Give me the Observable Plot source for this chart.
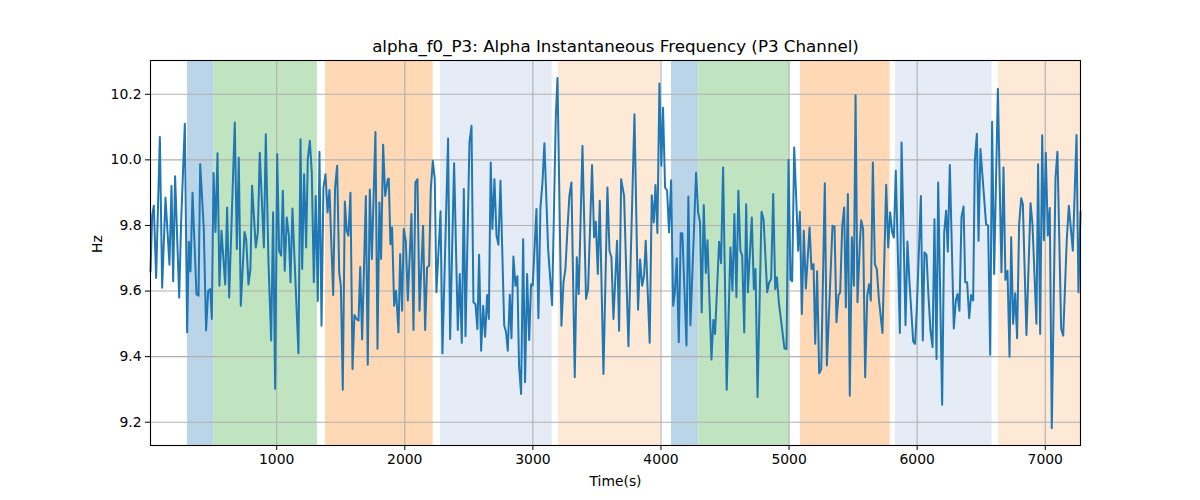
<!DOCTYPE html>
<html>
<head>
<meta charset="utf-8">
<script src="https://cdn.jsdelivr.net/npm/d3@7"></script>
<script src="https://cdn.jsdelivr.net/npm/@observablehq/plot@0.6"></script>
<style>
  html, body { margin: 0; padding: 0; background: #fff; }
  #chart svg { display: block; }
</style>
</head>
<body>
<div id="chart"></div>
<script>
const titleText = "alpha_f0_P3: Alpha Instantaneous Frequency (P3 Channel)";
const xLabel = "Time(s)";
const yLabel = "Hz";
const xTicks = [1000, 2000, 3000, 4000, 5000, 6000, 7000];
const yTicks = [9.2, 9.4, 9.6, 9.8, 10.0, 10.2];

const times = [
15,28,41,59,88,106,132,163,179,192,207,239,254,283,301,314,327,343,374,390,403,431,449,465,481,494,507,522,538,553,569,598,613,629,673,689,704,720,749,762,780,795,808,837,853,868,900,915,
936,957,972,988,1004,1019,1035,1048,1063,1079,1095,1108,1123,1170,1186,1199,1214,1230,1243,1259,1274,1290,1305,1321,1334,1350,1365,1381,1397,1412,1441,1456,1472,1488,1501,1516,1532,1547,1560,1576,1592,1607,1623,1639,1652,1667,1696,1711,1727,1743,1771,1787,1802,1815,1831,1847,1868,
1875,1888,1901,1917,1932,1951,1964,1979,1992,2008,2024,2052,2068,2083,2099,2115,2143,2159,2174,2190,2203,2219,2234,2247,2279,2294,2338,2354,2385,2414,2429,2445,2461,2474,2505,2521,2536,2552,2567,2580,2596,2612,2627,2643,2656,2671,2684,2700,2716,2731,2747,2776,
2791,2804,2820,2833,2848,2864,2879,2892,2908,2924,2939,2955,2971,2986,2999,3028,3043,3059,3075,3090,3119,3150,3179,3192,3223,3239,3254,3270,3285,3301,3327,3343,3358,3387,3415,3431,3462,3478,3491,3507,3522,3551,3582,3598,3613,3629,3657,3673,3689,
3712,3728,3746,3793,3821,3837,3853,3868,3881,3912,3928,3944,3957,3972,3988,4003,4016,4032,4048,4063,4079,4095,4108,4123,4139,4154,4167,4199,4214,4230,4274,4290,4305,4318,4334,4350,4363,4394,4409,4422,4454,4469,4485,4513,4542,4558,4573,4589,4604,4620,
4634,4650,4665,4678,4709,4725,4738,4754,4785,4801,4829,4845,4860,4876,4892,4905,4920,4964,4980,4996,5011,5024,5040,5056,5071,5084,5100,5115,5131,5160,5175,5191,5204,5219,5235,5251,5279,5295,5339,5355,5370,5386,5399,5415,5430,5443,5459,5474,5490,5506,5519,5534,5553,
5563,5578,5594,5610,5625,5638,5654,5670,5685,5701,5729,5758,5774,5789,5805,5818,5833,5865,5878,5909,5924,5940,5969,5984,5997,6029,6044,6057,6073,6088,6104,6120,6135,6151,6164,6195,6211,6226,6239,6255,6286,6302,6315,6330,6346,6362,6375,6390,6406,6421,6437,6450,6466,6479,
6494,6538,6554,6570,6585,6601,6630,6658,6674,6689,6705,6721,6734,6749,6765,6780,6796,6812,6825,6853,6885,6900,6931,6944,6960,6976,6989,7004,7020,7035,7051,7080,7095,7124,7140,7168,7184,7215,7244,7259,7275
];

const hz = [
9.66,9.83,9.86,9.64,10.07,9.61,9.885,9.68,9.92,9.63,9.95,9.58,9.81,10.11,9.474,9.75,9.66,9.90,9.59,9.586,9.987,9.79,9.48,9.60,9.606,9.515,9.96,9.78,10.02,9.616,9.784,9.62,9.855,9.58,10.114,9.728,10.007,9.555,9.78,9.758,9.62,9.667,9.921,9.733,9.78,10.022,9.733,10.078,
9.687,9.449,9.84,9.302,10.017,9.723,9.708,9.906,9.662,9.824,9.769,9.627,9.852,9.41,10.063,9.667,9.956,9.733,10.002,10.058,9.961,9.627,9.89,9.57,10.025,9.494,9.916,9.956,9.84,9.908,9.588,9.916,9.982,9.657,9.616,9.299,9.873,9.784,9.769,9.90,9.362,9.527,9.515,9.51,9.673,9.452,9.89,9.375,9.91,9.698,10.085,9.424,9.87,9.698,10.046,9.89,9.941,
9.943,9.743,9.794,9.555,9.601,9.474,9.713,9.54,9.789,9.753,9.571,9.835,9.481,9.931,9.941,9.54,9.799,9.481,9.672,9.677,9.911,9.997,9.941,9.596,9.843,9.41,10.065,9.454,9.99,9.481,9.652,9.442,9.911,9.462,10.053,10.104,9.566,9.56,9.484,9.711,9.418,9.555,9.461,9.588,9.515,9.992,9.789,9.941,9.769,9.741,9.936,9.496,
9.474,9.418,9.589,9.456,9.705,9.616,9.645,9.373,9.286,9.758,9.322,9.652,9.451,9.621,9.618,9.85,9.517,9.855,9.931,10.051,9.728,9.557,10.132,10.25,9.494,9.627,9.667,9.789,9.89,9.931,9.337,9.703,9.591,10.043,9.576,9.606,9.984,9.764,9.811,9.652,9.875,9.347,9.916,9.723,9.703,9.515,9.753,9.479,9.941,
9.89,9.672,9.432,10.139,9.543,9.696,9.616,9.647,9.753,9.442,9.892,9.809,9.923,9.777,10.233,9.982,10.159,9.916,9.906,9.779,9.938,9.555,9.596,9.7,9.444,9.776,9.776,9.434,9.888,9.496,9.961,9.84,9.809,9.535,9.862,9.655,9.755,9.391,9.512,9.469,9.75,9.685,9.977,9.299,9.733,9.601,9.835,9.581,9.906,9.723,
9.708,9.474,9.865,9.596,9.824,9.606,9.667,9.276,9.842,9.819,9.596,9.627,9.637,9.896,9.606,9.642,9.566,9.425,9.423,10.0,9.635,9.63,10.038,9.88,9.723,9.842,9.53,9.784,9.608,9.794,9.667,9.682,9.439,9.66,9.349,9.362,9.929,9.373,9.799,9.796,9.505,9.588,9.596,9.799,9.855,9.55,9.896,9.281,9.764,9.616,10.197,9.566,9.748,
9.816,9.789,9.337,9.586,9.621,9.571,9.992,9.682,9.667,9.576,9.472,9.924,9.733,9.84,9.779,9.763,9.967,9.472,10.053,9.496,9.751,9.627,9.446,9.439,9.545,9.89,9.449,9.718,9.71,9.586,9.479,9.429,9.819,9.393,9.931,9.253,9.779,9.845,9.72,9.984,9.486,9.571,9.591,9.54,9.826,9.858,9.627,9.627,9.517,9.588,9.571,9.997,10.08,9.753,
10.033,9.804,9.799,9.406,10.116,9.652,10.217,9.657,9.977,9.634,9.662,9.4,9.764,9.5,9.593,9.456,9.804,9.883,9.865,9.466,9.868,9.804,9.5,9.987,9.469,10.075,9.755,10.022,9.769,9.853,9.182,9.946,10.025,9.486,9.464,9.758,9.86,9.723,10.076,9.596,9.84
];

// Shaded segments (time spans) and their kind
const spanStart = [304, 512, 1381, 2279, 3200, 4082, 4295, 5089, 5830, 6635];
const spanEnd   = [512, 1318, 2222, 3151, 3998, 4295, 5003, 5789, 6585, 7275];
const spanKind  = ["A", "B", "C", "D", "E", "A", "B", "C", "D", "E"];
const kindDomain = ["A", "B", "C", "D", "E"];
const kindColors = ["#bbd5e8", "#c0e3c0", "#ffd8b5", "#e5ecf6", "#fee8d6"];

const series = times.map((t, i) => ({t, v: hz[i]}));
const spans = spanStart.map((s, i) => ({s, e: spanEnd[i], k: spanKind[i]}));

const font = "DejaVu Sans, Liberation Sans, sans-serif";

const chart = Plot.plot({
  width: 1200,
  height: 500,
  marginLeft: 150,
  marginRight: 120,
  marginTop: 60,
  marginBottom: 55,
  style: {fontFamily: font, fontSize: "13.9px", color: "#000", background: "#fff"},
  x: {domain: [times[0], times[times.length - 1]]},
  y: {domain: [9.129, 10.303]},
  color: {domain: kindDomain, range: kindColors},
  marks: [
    Plot.rect(spans, {x1: "s", x2: "e", fill: "k"}),
    Plot.gridX(xTicks, {stroke: "#b0b0b0", strokeOpacity: 1, strokeWidth: 1.1}),
    Plot.gridY(yTicks, {stroke: "#b0b0b0", strokeOpacity: 1, strokeWidth: 1.1}),
    Plot.line(series, {x: "t", y: "v", stroke: "#1f77b4", strokeWidth: 2, strokeLinejoin: "round", strokeLinecap: "square"}),
    Plot.frame({stroke: "#000", strokeWidth: 1.1}),
    Plot.axisX({ticks: xTicks, tickSize: 5, tickPadding: 4, label: null, tickFormat: d => String(d), fontSize: "13.9px"}),
    Plot.axisY({ticks: yTicks, tickSize: 5, tickPadding: 4, label: null, tickFormat: d => d.toFixed(1), fontSize: "13.9px"}),
    Plot.text([titleText], {frameAnchor: "top", lineAnchor: "middle", dy: -14, fontSize: 16.7, fill: "#000"}),
    Plot.text([xLabel], {frameAnchor: "bottom", lineAnchor: "middle", dy: 36, fontSize: 13.9, fill: "#000"}),
    Plot.text([yLabel], {frameAnchor: "left", lineAnchor: "middle", dx: -53, rotate: -90, fontSize: 13.9, fill: "#000"})
  ]
});
document.getElementById("chart").appendChild(chart);
</script>
</body>
</html>
